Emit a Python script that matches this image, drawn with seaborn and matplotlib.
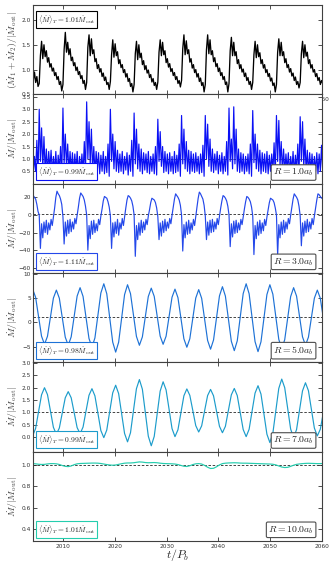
import numpy as np
import pandas as pd
import matplotlib
matplotlib.use("Agg")
import matplotlib.pyplot as plt
import seaborn as sns

# ---------------- data ----------------
# fast-sampled series (panels 1-3): sample grid start and spacing (t/P_b)
fast_t0 = 2004.026
fast_dt = 0.229
# slow-sampled series (panels 4-6)
slow_t0 = 2004.13
slow_dt = 0.5725

mdot_sum = [
    0.92, 0.78, 0.95, 0.74, 0.86, 0.66,
    0.72, 1.28, 1.57, 1.22, 1.50, 1.26, 1.38, 1.15, 1.24, 1.05, 1.12, 0.97, 1.03, 0.88, 0.94, 0.80, 0.86, 0.70, 0.76, 0.57,
    0.70, 1.40, 1.75, 1.35, 1.55, 1.30, 1.42, 1.18, 1.25, 1.08, 1.14, 0.98, 1.05, 0.90, 0.96, 0.82, 0.88, 0.72, 0.78, 0.60,
    0.74, 1.45, 1.70, 1.28, 1.62, 1.32, 1.40, 1.16, 1.22, 1.02, 1.10, 0.95, 1.02, 0.86, 0.93, 0.78, 0.85, 0.70, 0.74, 0.60,
    0.76, 1.30, 1.60, 1.25, 1.52, 1.28, 1.36, 1.12, 1.20, 1.04, 1.10, 0.94, 1.00, 0.85, 0.92, 0.76, 0.82, 0.66, 0.72, 0.55,
    0.70, 1.32, 1.57, 1.20, 1.50, 1.24, 1.33, 1.10, 1.18, 1.00, 1.08, 0.93, 0.99, 0.84, 0.90, 0.75, 0.82, 0.68, 0.74, 0.60,
    0.75, 1.35, 1.60, 1.28, 1.55, 1.30, 1.38, 1.14, 1.22, 1.05, 1.12, 0.96, 1.02, 0.88, 0.94, 0.80, 0.86, 0.72, 0.78, 0.65,
    0.78, 1.42, 1.70, 1.30, 1.58, 1.32, 1.40, 1.15, 1.22, 1.03, 1.10, 0.94, 1.00, 0.85, 0.92, 0.76, 0.83, 0.68, 0.74, 0.55,
    0.70, 1.40, 1.70, 1.32, 1.60, 1.30, 1.38, 1.16, 1.24, 1.06, 1.12, 0.96, 1.03, 0.88, 0.94, 0.80, 0.86, 0.70, 0.75, 0.55,
    0.72, 1.38, 1.65, 1.28, 1.55, 1.28, 1.36, 1.12, 1.20, 1.02, 1.10, 0.95, 1.01, 0.86, 0.93, 0.78, 0.84, 0.70, 0.76, 0.60,
    0.74, 1.30, 1.57, 1.24, 1.50, 1.26, 1.34, 1.12, 1.20, 1.03, 1.10, 0.94, 1.00, 0.86, 0.92, 0.77, 0.83, 0.68, 0.73, 0.55,
    0.70, 1.35, 1.62, 1.28, 1.55, 1.28, 1.36, 1.14, 1.22, 1.04, 1.10, 0.95, 1.02, 0.87, 0.93, 0.78, 0.85, 0.70, 0.76, 0.63,
    0.74, 1.32, 1.57, 1.24, 1.50, 1.27, 1.35, 1.12, 1.20, 1.03, 1.10, 0.95, 1.00, 0.86, 0.92, 0.78, 0.84, 0.70, 0.78, 0.72,
]

mdot_r1 = [
    1.2, 0.4, 1.1, 0.5, 1.75, 0.3,
    3.0, 0.9, 2.25, 0.6, 1.9, 0.5, 1.4, 0.4, 1.3, 0.6, 1.35, 0.45, 1.1, 0.5, 1.3, 0.35, 1.15, 0.5, 1.5, 0.3,
    3.05, 0.8, 2.0, 0.7, 1.6, 0.45, 1.3, 0.5, 1.25, 0.4, 1.2, 0.5, 1.3, 0.35, 1.1, 0.5, 1.2, 0.4, 1.7, 0.35,
    3.3, 1.0, 2.5, 0.8, 2.2, 0.5, 1.5, 0.4, 1.3, 0.55, 1.25, 0.4, 1.15, 0.5, 1.3, 0.4, 1.1, 0.45, 1.6, 0.3,
    3.0, 0.9, 2.0, 0.6, 1.7, 0.5, 1.35, 0.45, 1.2, 0.5, 1.3, 0.4, 1.1, 0.55, 1.25, 0.35, 1.15, 0.5, 1.75, 0.3,
    2.85, 0.8, 2.2, 0.6, 1.6, 0.5, 1.4, 0.4, 1.25, 0.55, 1.2, 0.45, 1.3, 0.4, 1.1, 0.5, 1.2, 0.4, 1.5, 0.35,
    2.6, 0.9, 2.1, 0.7, 1.5, 0.45, 1.3, 0.5, 1.2, 0.4, 1.25, 0.5, 1.1, 0.4, 1.3, 0.45, 1.15, 0.5, 1.6, 0.3,
    2.75, 0.8, 2.2, 0.6, 1.7, 0.5, 1.35, 0.4, 1.3, 0.5, 1.2, 0.45, 1.25, 0.5, 1.1, 0.4, 1.2, 0.45, 1.55, 0.3,
    2.75, 1.0, 2.4, 0.7, 1.8, 0.5, 1.4, 0.45, 1.2, 0.55, 1.3, 0.4, 1.15, 0.5, 1.25, 0.4, 1.1, 0.5, 1.7, 0.35,
    3.05, 0.9, 1.8, 0.6, 3.1, 0.8, 2.2, 0.5, 1.4, 0.45, 1.25, 0.5, 1.2, 0.4, 1.1, 0.5, 1.2, 0.4, 1.6, 0.3,
    2.95, 0.85, 2.0, 0.6, 1.6, 0.5, 1.35, 0.4, 1.25, 0.5, 1.2, 0.45, 1.3, 0.4, 1.15, 0.5, 1.2, 0.45, 1.65, 0.3,
    2.75, 0.9, 2.55, 0.7, 1.7, 0.5, 1.4, 0.45, 1.2, 0.55, 1.25, 0.4, 1.1, 0.5, 1.3, 0.4, 1.15, 0.5, 1.6, 0.3,
    2.7, 0.9, 2.5, 0.65, 1.8, 0.5, 1.35, 0.4, 1.25, 0.5, 1.2, 0.45, 1.1, 0.5, 1.25, 0.4, 1.2, 0.5, 1.55, 0.5,
]

mdot_r3 = [
    23, 22, 20, 18, 12, 4,
    0, -38, -10, -26, -8, -20, -6, -22, -9, -17, -5, -12, -2, 8, 20, 27, 24, 22, 18, 12,
    -2, -33, -8, -24, -6, -21, -5, -19, -8, -16, -4, -10, 0, 9, 19, 25, 23, 21, 17, 10,
    0, -40, -12, -27, -7, -22, -6, -20, -10, -18, -5, -11, -1, 7, 16, 21, 20, 19, 15, 9,
    -1, -38, -9, -25, -8, -21, -5, -23, -9, -16, -4, -12, -2, 8, 17, 22, 21, 19, 16, 10,
    0, -47, -12, -28, -9, -23, -6, -20, -8, -17, -5, -11, -1, 6, 14, 19, 18, 17, 14, 8,
    -2, -28, -9, -24, -7, -20, -5, -18, -8, -15, -4, -10, 0, 9, 18, 24, 22, 20, 17, 11,
    0, -41, -11, -26, -8, -22, -6, -21, -9, -17, -5, -12, -1, 9, 19, 26, 24, 21, 18, 11,
    -1, -28, -8, -23, -6, -20, -5, -19, -8, -16, -4, -11, -1, 8, 16, 22, 21, 19, 16, 10,
    0, -36, -10, -25, -7, -21, -6, -20, -9, -17, -5, -11, -2, 7, 15, 21, 20, 18, 15, 9,
    -1, -45, -12, -27, -8, -23, -6, -21, -9, -18, -5, -12, -2, 6, 14, 19, 18, 17, 14, 8,
    0, -46, -11, -26, -8, -22, -6, -20, -8, -16, -4, -10, 0, 9, 18, 24, 22, 20, 17, 10,
    -1, -35, -9, -24, -7, -20, -5, -19, -8, -16, -4, -11, -1, 8, 17, 24, 23, 21, 19, 20,
]

mdot_r5 = [
    6.8, 5.14, 1.15, -2.84, -4.5,
    -2.87, 1.05, 4.97, 6.6,
    4.94, 0.95, -3.04, -4.7,
    -2.97, 1.2, 5.37, 7.1,
    5.31, 1.0, -3.31, -5.1,
    -3.2, 1.4, 6.0, 7.9,
    5.85, 0.9, -4.05, -6.1,
    -4.08, 0.8, 5.68, 7.7,
    5.88, 1.5, -2.88, -4.7,
    -2.99, 1.15, 5.29, 7.0,
    5.32, 1.25, -2.82, -4.5,
    -2.84, 1.15, 5.14, 6.8,
    5.06, 0.85, -3.36, -5.1,
    -3.37, 0.8, 4.97, 6.7,
    4.91, 0.6, -3.71, -5.5,
    -3.62, 0.9, 5.42, 7.3,
    5.38, 0.75, -3.88, -5.8,
    -3.79, 1.05, 5.89, 7.9,
    5.86, 0.95, -3.96, -6.0,
    -3.99, 0.85, 5.69, 7.7,
    5.78, 1.15, -3.48, -5.4,
    -3.57, 0.85, 5.27, 7.1,
    5.37, 1.2, -2.97, -4.7,
    -3.04, 0.95, 4.94, 6.6,
    4.94, 0.95,
]

mdot_r7 = [
    0.05, 0.34, 1.03, 1.71, 2.0,
    1.72, 1.06, 0.39, 0.11,
    0.36, 0.98, 1.59, 1.84,
    1.59, 0.99, 0.38, 0.13,
    0.40, 1.05, 1.69, 1.96,
    1.67, 0.97, 0.26, -0.03,
    0.28, 1.04, 1.79, 2.1,
    1.76, 0.95, 0.14, -0.2,
    0.17, 1.07, 1.96, 2.33,
    1.94, 0.99, 0.03, -0.36,
    0.02, 0.94, 1.86, 2.24,
    1.91, 1.13, 0.34, 0.01,
    0.29, 0.98, 1.67, 1.95,
    1.69, 1.08, 0.46, 0.2,
    0.45, 1.07, 1.68, 1.93,
    1.67, 1.05, 0.43, 0.17,
    0.43, 1.07, 1.71, 1.97,
    1.68, 0.99, 0.30, 0.01,
    0.31, 1.05, 1.78, 2.08,
    1.74, 0.93, 0.11, -0.23,
    0.15, 1.06, 1.97, 2.35,
    2.0, 1.16, 0.32, -0.03,
    0.30, 1.09, 1.87, 2.2,
    1.88, 1.12, 0.36, 0.04,
    0.31, 0.97,
]

mdot_r10 = [
    1.012, 1.010, 1.006, 1.004, 1.005, 1.009, 1.012, 1.012, 1.010, 1.004,
    0.994, 0.986, 0.984, 0.990, 1.002, 1.010, 1.013, 1.014, 1.015, 1.016,
    1.017, 1.017, 1.016, 1.013, 1.008, 1.003, 0.999, 0.997, 0.999, 1.005,
    1.011, 1.016, 1.018, 1.018, 1.020, 1.024, 1.028, 1.026, 1.022, 1.020,
    1.021, 1.022, 1.020, 1.016, 1.013, 1.012, 1.011, 1.010, 1.008, 1.003,
    0.995, 0.987, 0.985, 0.992, 1.003, 1.010, 1.012, 1.008, 0.995, 0.978,
    0.966, 0.968, 0.982, 1.000, 1.012, 1.016, 1.018, 1.019, 1.020, 1.019,
    1.017, 1.016, 1.016, 1.015, 1.014, 1.013, 1.012, 1.011, 1.010, 1.009,
    1.008, 1.006, 1.000, 0.990, 0.980, 0.975, 0.977, 0.986, 0.997, 1.005,
    1.009, 1.012, 1.014, 1.015, 1.014, 1.013, 1.012, 1.012, 1.013,
]

mean_labels = ["1.01", "0.99", "1.11", "0.98", "0.99", "1.01"]
radius_labels = [None, "1.0", "3.0", "5.0", "7.0", "10.0"]
xticks = [2010, 2020, 2030, 2040, 2050, 2060]

# ---------------- styling ----------------
sns.set_theme(style="white")
plt.rcParams.update({
    "font.family": ["DejaVu Sans"],
    "mathtext.fontset": "cm",
    "xtick.direction": "in",
    "ytick.direction": "in",
    "xtick.top": True,
    "ytick.right": True,
    "xtick.bottom": True,
    "ytick.left": True,
    "xtick.major.size": 3,
    "ytick.major.size": 3,
    "xtick.major.width": 0.6,
    "ytick.major.width": 0.6,
    "xtick.labelsize": 4.2,
    "ytick.labelsize": 4.2,
    "xtick.major.pad": 2,
    "ytick.major.pad": 1.5,
    "axes.edgecolor": "0.25",
    "axes.linewidth": 0.8,
    "xtick.color": "0.2",
    "ytick.color": "0.2",
})

series = [mdot_sum, mdot_r1, mdot_r3, mdot_r5, mdot_r7, mdot_r10]
grids = [(fast_t0, fast_dt)] * 3 + [(slow_t0, slow_dt)] * 3
colors = ["black", "#0a10f5", "#2448ea", "#1e72d6", "#1c9ccb", "#25cdae"]
widths = [0.95, 0.85, 0.85, 0.85, 0.85, 0.85]
ylims = [(0.5, 2.3), (0.0, 3.6), (-66, 35.5), (-8.2, 10.1), (-0.6, 3.03), (0.286, 1.124)]
yticks = [
    [0.5, 1.0, 1.5, 2.0],
    [0.5, 1.0, 1.5, 2.0, 2.5, 3.0, 3.5],
    [-60, -40, -20, 0, 20],
    [-5, 0, 5, 10],
    [0.0, 0.5, 1.0, 1.5, 2.0, 2.5, 3.0],
    [0.4, 0.6, 0.8, 1.0],
]
ylabels = [r"$(\dot{M}_1+\dot{M}_2)/|\dot{M}_{\rm out}|$"] + [r"$\dot{M}/|\dot{M}_{\rm out}|$"] * 5

fig = plt.figure(figsize=(3.32, 5.65), dpi=100)
gs = fig.add_gridspec(6, 1, left=0.0994, right=0.970, top=0.991, bottom=0.0425, hspace=0)
axes = [fig.add_subplot(gs[i]) for i in range(6)]

for i, ax in enumerate(axes):
    vals = series[i]
    t0, dt = grids[i]
    df = pd.DataFrame({"t": t0 + dt * np.arange(len(vals)), "v": vals})
    sns.lineplot(data=df, x="t", y="v", ax=ax, color=colors[i], linewidth=widths[i],
                 estimator=None, sort=False)
    if i > 0:
        ax.axhline(1.0, color="0.15", lw=0.6, ls=(0, (3, 2)), zorder=1)
    ax.set_xlim(2004.2, 2060)
    ax.set_ylim(*ylims[i])
    ax.set_yticks(yticks[i])
    ax.set_xticks(xticks)
    ax.set_ylabel(ylabels[i], fontsize=7, color="0.25")
    ax.yaxis.set_label_coords(-0.045, 0.5)
    ax.set_xlabel("")
    if 0 < i < 5:
        ax.tick_params(labelbottom=False)
    ax.set_facecolor("white")

    txt = r"$\langle \dot{M}\rangle_T=%s\dot{M}_{\rm out}$" % mean_labels[i]
    if i == 0:
        ax.text(0.018, 0.915, txt, transform=ax.transAxes, fontsize=5.4,
                ha="left", va="top", zorder=5,
                bbox=dict(boxstyle="square,pad=0.25", fc="white", ec=colors[i], lw=0.8))
    else:
        ax.text(0.018, 0.06, txt, transform=ax.transAxes, fontsize=5.4,
                ha="left", va="bottom", zorder=5,
                bbox=dict(boxstyle="square,pad=0.25", fc="white", ec=colors[i], lw=0.8))
    if radius_labels[i] is not None:
        ax.text(0.972, 0.06, r"$R=%sa_b$" % radius_labels[i], transform=ax.transAxes,
                fontsize=7, ha="right", va="bottom", zorder=5,
                bbox=dict(boxstyle="round,pad=0.2,rounding_size=0.15", fc="white",
                          ec="0.3", lw=0.8))

axes[-1].set_xlabel(r"$t/P_b$", fontsize=8.5, labelpad=-1)

fig.savefig("out.png", dpi=100)
